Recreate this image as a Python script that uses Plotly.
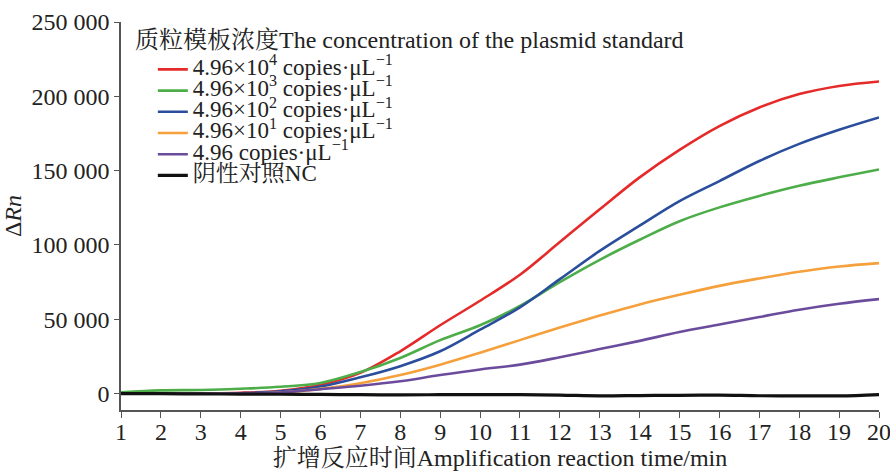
import plotly.graph_objects as go

# ---- data ----
time_min = list(range(1, 21))
conc_1e4 = [0, 0, 200, 600, 2000, 6000, 14000, 28500, 46000, 62500, 80000, 102000, 124000, 145500, 164000, 180000, 192500, 201500, 207000, 210000]
conc_1e3 = [900, 2200, 2500, 3300, 4600, 7200, 14500, 24000, 36000, 46000, 59000, 75000, 90000, 103500, 116000, 125300, 133000, 139800, 145500, 150800]
conc_1e2 = [0, 0, 0, 300, 1500, 4800, 11000, 18500, 28500, 43000, 58000, 77000, 96000, 113000, 129500, 143000, 156500, 168000, 177500, 185800]
conc_1e1 = [0, 0, 0, 200, 800, 3200, 7000, 12500, 19500, 27500, 36000, 44500, 52500, 60000, 66500, 72500, 77500, 82000, 85500, 87800]
conc_1e0 = [0, 0, 0, 200, 800, 3000, 5300, 8300, 12500, 16300, 19500, 24500, 30000, 35500, 41500, 46500, 51500, 56500, 60500, 63600]
neg_ctrl = [0, 0, -200, -300, -400, -500, -700, -800, -700, -600, -700, -1000, -1500, -1300, -1100, -1000, -1400, -1500, -1500, -600]

series_names = [
    "4.96×10<sup>4</sup> copies·μL<sup>−1</sup>",
    "4.96×10<sup>3</sup> copies·μL<sup>−1</sup>",
    "4.96×10<sup>2</sup> copies·μL<sup>−1</sup>",
    "4.96×10<sup>1</sup> copies·μL<sup>−1</sup>",
    "4.96 copies·μL<sup>−1</sup>",
    "阴性对照NC",
]
series_values = [conc_1e4, conc_1e3, conc_1e2, conc_1e1, conc_1e0, neg_ctrl]
series_colors = ["#e52b2a", "#4dad49", "#2a4e9c", "#f5a03b", "#6b4c9c", "#111111"]
series_widths = [2.6, 2.6, 2.6, 2.6, 2.6, 3.2]

y_tickvals = [0, 50000, 100000, 150000, 200000, 250000]
y_ticktext = ["0", "50 000", "100 000", "150 000", "200 000", "250 000"]
x_tickvals = list(range(1, 21))

legend_title = "质粒模板浓度The concentration of the plasmid standard"
x_title = "扩增反应时间Amplification reaction time/min"
y_title = "Δ<i>Rn</i>"

FONT = "Liberation Serif, Noto Serif CJK SC, Noto Sans CJK SC, serif"
FS = 24

fig = go.Figure()
for name, vals, col, w in zip(series_names, series_values, series_colors, series_widths):
    fig.add_trace(go.Scatter(
        x=time_min, y=vals, mode="lines",
        name='<span style="font-size:23px">' + name + "</span>",
        line=dict(color=col, width=w, shape="spline", smoothing=1.0),
    ))

# legend heading, placed above the legend entries
fig.add_annotation(
    text=legend_title, xref="paper", yref="paper",
    x=0.0158, y=0.9536, xanchor="left", yanchor="middle",
    showarrow=False, font=dict(size=FS, family=FONT, color="#222"),
)

fig.update_layout(
    width=890, height=473,
    margin=dict(l=121, r=11, t=22, b=63),
    paper_bgcolor="white", plot_bgcolor="white",
    font=dict(family=FONT, size=FS, color="#222"),
    showlegend=True,
    legend=dict(
        x=0.042, y=0.918, xanchor="left", yanchor="top",
        bgcolor="rgba(0,0,0,0)",
        font=dict(size=14.0, family=FONT, color="#222"),
        tracegroupgap=0,
    ),
    xaxis=dict(
        range=[1, 20], tickvals=x_tickvals, automargin=False,
        showgrid=False, zeroline=False,
        showline=True, linecolor="#555", linewidth=1.5,
        ticks="outside", ticklen=6, tickcolor="#555", tickwidth=1.3,
        ticklabeloverflow="allow", ticklabelstandoff=-7,
        tickfont=dict(size=FS, family=FONT, color="#222"),
        title=dict(text=x_title, font=dict(size=FS, family=FONT, color="#222"), standoff=3),
    ),
    yaxis=dict(
        range=[-11000, 250000], tickvals=y_tickvals, ticktext=y_ticktext, automargin=False,
        showgrid=False, zeroline=False,
        showline=True, linecolor="#555", linewidth=1.5,
        ticks="outside", ticklen=5, tickcolor="#555", tickwidth=1.3,
        tickfont=dict(size=FS, family=FONT, color="#222"),
        title=dict(text=y_title, font=dict(size=FS, family=FONT, color="#222"), standoff=9),
    ),
)

# remove the default page margin so the 890x473 figure fills the window exactly
fig.write_html(
    "out.html",
    config={"displayModeBar": False},
    post_script="document.body.style.margin='0';",
)
